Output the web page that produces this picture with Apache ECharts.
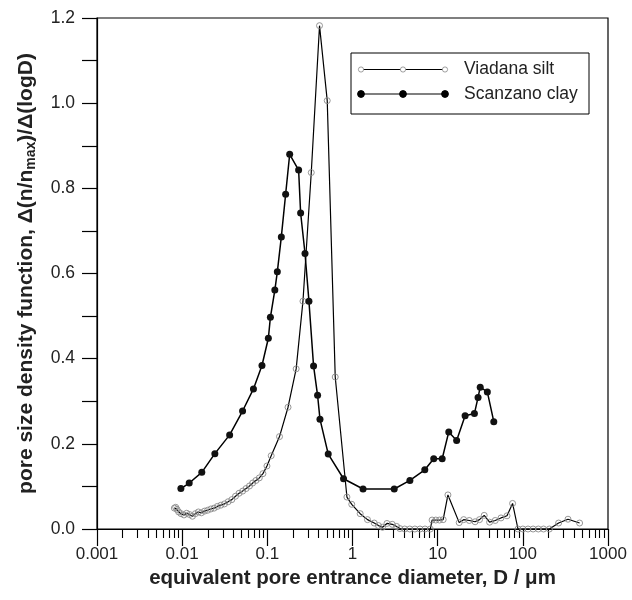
<!DOCTYPE html>
<html><head><meta charset="utf-8">
<script src="https://cdn.jsdelivr.net/npm/echarts@6/dist/echarts.min.js"></script>
<style>html,body{margin:0;padding:0;background:#fff}#c{width:632px;height:600px}</style>
</head><body><div id="c"></div>
<script>
const xTickLabels = ['0.001','0.01','0.1','1','10','100','1000'];
const xMinorTicks = [0.002,0.003,0.004,0.005,0.006,0.007,0.008,0.009,
  0.02,0.03,0.04,0.05,0.06,0.07,0.08,0.09,
  0.2,0.3,0.4,0.5,0.6,0.7,0.8,0.9,
  2,3,4,5,6,7,8,9, 20,30,40,50,60,70,80,90, 200,300,400,500,600,700,800,900];
const seriesNames = ['Viadana silt','Scanzano clay'];
const viadanaD = [0.0081,0.0084,0.0087,0.0091,0.0097,0.0105,0.0113,0.0122,0.0132,0.0143,0.0155,0.0168,0.0183,0.0199,0.0217,0.0237,0.0259,0.0285,0.0314,0.0347,0.0383,0.0423,0.0466,0.0513,0.0563,0.0617,0.0673,0.0735,0.0805,0.0888,0.0990,0.111,0.139,0.175,0.218,0.262,0.328,0.410,0.505,0.627,0.86,0.98,1.23,1.50,1.80,2.02,2.25,2.54,2.93,3.3,3.6,4.1,4.7,5.4,6.2,7.1,8.2,8.6,9.5,10.5,11.6,13.2,17.9,20.2,23.5,27.5,31,35.2,40.7,47.4,55.4,65.2,75.8,87.7,100,115,132,152,175,205,263,339,464];
const viadanaV = [0.049,0.051,0.046,0.040,0.036,0.033,0.037,0.034,0.030,0.036,0.040,0.038,0.042,0.044,0.047,0.049,0.053,0.056,0.059,0.064,0.069,0.077,0.084,0.089,0.095,0.101,0.108,0.114,0.120,0.130,0.148,0.172,0.217,0.286,0.376,0.535,0.837,1.182,1.006,0.357,0.075,0.058,0.036,0.022,0.014,0.008,0.004,0.013,0.011,0.006,0.001,0,0,0,0,0,0,0.021,0.021,0.021,0.022,0.080,0.015,0.022,0.020,0.017,0.022,0.032,0.016,0.020,0.026,0.031,0.060,0,0,0,0,0,0,0,0.014,0.023,0.014];
const scanzanoD = [0.00966,0.0121,0.0170,0.0242,0.0361,0.0512,0.0687,0.0865,0.1028,0.1086,0.1225,0.131,0.146,0.164,0.183,0.233,0.246,0.277,0.308,0.349,0.389,0.415,0.519,0.785,1.33,3.09,4.72,7.06,8.99,11.3,13.5,16.7,21.0,27.0,29.8,31.6,38.3,45.6];
const scanzanoV = [0.095,0.108,0.133,0.177,0.221,0.277,0.329,0.384,0.448,0.497,0.561,0.604,0.686,0.786,0.880,0.843,0.742,0.647,0.535,0.383,0.314,0.258,0.176,0.118,0.094,0.094,0.114,0.139,0.165,0.165,0.228,0.208,0.266,0.271,0.309,0.333,0.322,0.252];

const FONT = '"Liberation Sans", Arial, sans-serif';
const chart = echarts.init(document.getElementById('c'), null, {renderer:'canvas'});
const zip = (a,b) => a.map((v,i)=>[v,b[i]]);
const G = {left:97, right:24, top:18, bottom:71};

function legendGraphic(){
  const x0=351, y0=53, w=238, h=61;
  const els=[{type:'rect',shape:{x:x0,y:y0,width:w,height:h},style:{fill:'#fff',stroke:'#000',lineWidth:1},z:100}];
  const rows=[{y:69.5,open:true,name:seriesNames[0]},{y:94,open:false,name:seriesNames[1]}];
  rows.forEach(r=>{
    els.push({type:'line',shape:{x1:361,y1:r.y,x2:445,y2:r.y},style:{stroke:'#000',lineWidth:1.2},z:101});
    [361,403,445].forEach(cx=>{
      els.push({type:'circle',shape:{cx:cx,cy:r.y,r:r.open?2.6:3.4},
        style:r.open?{fill:'#fff',stroke:'#888',lineWidth:0.8}:{fill:'#000',stroke:'#000'},z:102});
    });
    els.push({type:'text',x:464,y:r.y,style:{text:r.name,font:'17.5px '+FONT,fill:'#222',textVerticalAlign:'middle',verticalAlign:'middle'},z:102});
  });
  return els;
}

chart.setOption({
  animation:false,
  backgroundColor:'#fff',
  grid:{left:G.left,right:G.right,top:G.top,bottom:G.bottom,show:true,borderColor:'#000',borderWidth:1.2,containLabel:false},
  xAxis:[{
    type:'log',logBase:10,min:0.001,max:1000,splitNumber:6,
    position:'bottom',
    axisLine:{show:true,lineStyle:{color:'#000',width:1.2}},
    axisTick:{show:true,length:17,lineStyle:{color:'#000',width:1.2}},
    axisLabel:{show:true,margin:17,fontSize:17,fontFamily:FONT,color:'#222',
      formatter:(v,i)=>xTickLabels[i]!==undefined?xTickLabels[i]:''},
    splitLine:{show:false},
    name:'equivalent pore entrance diameter, D / \u03bcm',
    nameLocation:'middle',nameGap:34,
    nameTextStyle:{fontSize:20.5,fontWeight:'bold',fontFamily:FONT,color:'#222'}
  },{
    type:'log',logBase:10,min:0.001,max:1000,position:'bottom',
    axisLine:{show:false},
    axisTick:{show:true,length:9,customValues:xMinorTicks,lineStyle:{color:'#000',width:1.1}},
    axisLabel:{show:false},
    splitLine:{show:false}
  }],
  yAxis:{
    type:'value',min:0,max:1.2,interval:0.2,
    axisLine:{show:true,lineStyle:{color:'#000',width:1.2}},
    axisTick:{show:true,length:15,lineStyle:{color:'#000',width:1.2}},
    minorTick:{show:true,splitNumber:2,length:15,lineStyle:{color:'#000',width:1.2}},
    axisLabel:{margin:22,fontSize:17.5,fontFamily:FONT,color:'#222',formatter:v=>v.toFixed(1)},
    splitLine:{show:false},
    name:'pore size density function, \u0394(n/n{sub|max})/\u0394(logD)',
    nameLocation:'middle',nameGap:59,
    nameTextStyle:{fontSize:21,fontWeight:'bold',fontFamily:FONT,color:'#222',
      rich:{sub:{fontSize:14,fontWeight:'bold',fontFamily:FONT,color:'#222',verticalAlign:'bottom',padding:[9,0,0,0]}}}
  },
  series:[{
    name:seriesNames[0],type:'line',xAxisIndex:0,data:zip(viadanaD,viadanaV),
    symbol:'circle',symbolSize:6,showAllSymbol:true,
    lineStyle:{color:'#000',width:1.2},
    itemStyle:{color:'rgba(0,0,0,0)',borderColor:'#8a8a8a',borderWidth:0.9},
    z:2
  },{
    name:seriesNames[1],type:'line',xAxisIndex:0,data:zip(scanzanoD,scanzanoV),
    symbol:'circle',symbolSize:7,showAllSymbol:true,
    lineStyle:{color:'#000',width:1.5},
    itemStyle:{color:'#111',borderColor:'#111',borderWidth:0},
    z:3
  }],
  graphic:legendGraphic()
});
</script></body></html>
